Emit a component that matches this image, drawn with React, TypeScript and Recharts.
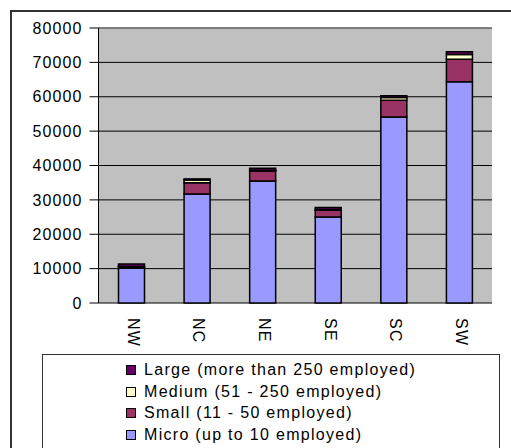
import { BarChart, Bar, XAxis, YAxis, CartesianGrid, ReferenceLine } from 'recharts';

const REGIONS = ['NW', 'NC', 'NE', 'SE', 'SC', 'SW'];
const MICRO = [10100, 31700, 35500, 25000, 54100, 64400];
const SMALL = [400, 3300, 2900, 2000, 4900, 6500];
const MEDIUM = [150, 700, 200, 200, 800, 1400];
const LARGE = [700, 400, 600, 600, 500, 800];
const Y_TICKS = [0, 10000, 20000, 30000, 40000, 50000, 60000, 70000, 80000];
const BOUNDARY_TICKS = [0, 1, 2, 3, 4, 5, 6];

// stacked bottom to top
const SERIES = [
  { key: 'micro', name: 'Micro (up to 10 employed)', color: '#9999FF', values: MICRO },
  { key: 'small', name: 'Small (11 - 50 employed)', color: '#993366', values: SMALL },
  { key: 'medium', name: 'Medium (51 - 250 employed)', color: '#FFFFCC', values: MEDIUM },
  { key: 'large', name: 'Large (more than 250 employed)', color: '#660066', values: LARGE },
];

const data = REGIONS.map((region, i) => {
  const row: Record<string, string | number> = { region };
  SERIES.forEach(s => {
    row[s.key] = s.values[i];
  });
  return row;
});

const FONT = '"Liberation Sans", Arial, sans-serif';

const RegionTick = ({ x, y, payload }: { x: number; y: number; payload: { value: string } }) => (
  <text
    transform={`translate(${x + 2},${y + 15}) rotate(90)`}
    textAnchor='start'
    dominantBaseline='central'
    fontFamily={FONT}
    fontSize={16}
    letterSpacing={1.3}
    fill='#000'
  >
    {payload.value}
  </text>
);

const EmptyTick = () => <g />;

export default function App() {
  return (
    <div
      style={{
        position: 'absolute',
        left: 0,
        top: 0,
        width: 511,
        height: 448,
        overflow: 'hidden',
        background: '#fff',
        fontFamily: FONT,
      }}
    >
      {/* outer chart frame */}
      <div
        style={{
          position: 'absolute',
          left: 10,
          top: 10,
          width: 520,
          height: 460,
          border: '2px solid #333',
        }}
      />
      <BarChart
        width={511}
        height={448}
        data={data}
        margin={{ top: 28, right: 19, left: 0, bottom: 95 }}
        barSize={26}
        style={{ position: 'absolute', left: 0, top: 0 }}
      >
        <CartesianGrid fill='#C0C0C0' stroke='#000' vertical={false} horizontalValues={Y_TICKS} />
        <YAxis
          type='number'
          domain={[0, 80000]}
          ticks={Y_TICKS}
          interval={0}
          width={98.5}
          tickSize={9}
          tickMargin={7}
          axisLine={{ stroke: '#000' }}
          tickLine={{ stroke: '#000' }}
          tick={{ fill: '#000', fontSize: 16, fontFamily: FONT, letterSpacing: 1.1 }}
        />
        <XAxis
          xAxisId='bounds'
          type='number'
          domain={[0, 6]}
          ticks={BOUNDARY_TICKS}
          height={0}
          tickSize={5}
          axisLine={{ stroke: '#000' }}
          tickLine={{ stroke: '#000' }}
          tick={EmptyTick}
        />
        <XAxis
          dataKey='region'
          height={50}
          axisLine={false}
          tickLine={false}
          tickSize={0}
          tickMargin={0}
          interval={0}
          tick={RegionTick}
        />
        <ReferenceLine y={80000} stroke='#808080' strokeWidth={1.5} />
        <ReferenceLine xAxisId='bounds' x={6} stroke='#808080' strokeWidth={1.5} />
        {SERIES.map(s => (
          <Bar
            key={s.key}
            dataKey={s.key}
            name={s.name}
            stackId='size'
            fill={s.color}
            stroke='#000'
            strokeWidth={1.5}
            isAnimationActive={false}
          />
        ))}
      </BarChart>
      {/* legend box, largest class first */}
      <div
        style={{
          position: 'absolute',
          left: 42,
          top: 354,
          width: 456,
          height: 110,
          border: '1px solid #333',
          background: '#fff',
        }}
      >
        {[...SERIES].reverse().map((s, i) => (
          <div
            key={s.key}
            style={{
              position: 'absolute',
              left: 83,
              top: 5 + i * 21.5,
              height: 20,
              display: 'flex',
              alignItems: 'center',
              fontSize: 16,
              letterSpacing: 1.3,
              whiteSpace: 'nowrap',
              color: '#000',
            }}
          >
            <span
              style={{
                display: 'inline-block',
                width: 8,
                height: 8,
                background: s.color,
                border: '1px solid #000',
                marginRight: 8,
              }}
            />
            {s.name}
          </div>
        ))}
      </div>
    </div>
  );
}
